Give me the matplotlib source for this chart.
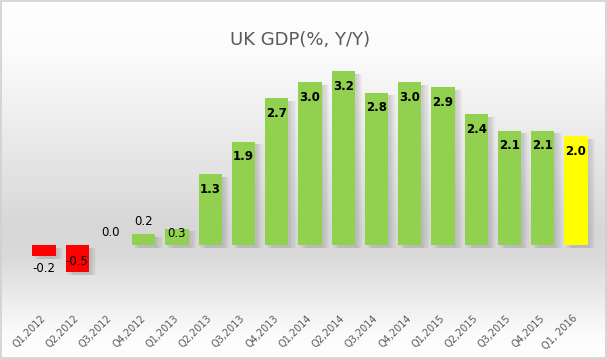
import numpy as np
import matplotlib.pyplot as plt
from matplotlib.colors import LinearSegmentedColormap

# dados
trimestres = ['Q1,2012', 'Q2,2012', 'Q3,2012', 'Q4,2012', 'Q1,2013', 'Q2,2013',
              'Q3,2013', 'Q4,2013', 'Q1,2014', 'Q2,2014', 'Q3,2014', 'Q4,2014',
              'Q1,2015', 'Q2,2015', 'Q3,2015', 'Q4,2015', 'Q1, 2016']
pib = [-0.2, -0.5, 0.0, 0.2, 0.3, 1.3, 1.9, 2.7, 3.0, 3.2, 2.8, 3.0,
       2.9, 2.4, 2.1, 2.1, 2.0]

n = len(pib)

fig = plt.figure(figsize=(6.07, 3.59), dpi=100)

# fundo com gradiente (branco -> cinza perto do zero -> branco)
bg = fig.add_axes([0, 0, 1, 1], zorder=0)
cmap = LinearSegmentedColormap.from_list(
    'fundo', [(0.0, '#ffffff'), (0.15, '#fbfbfb'), (0.64, '#d7d7d7'),
              (0.72, '#dadada'), (0.93, '#fbfbfb'), (1.0, '#ffffff')])
grad = np.linspace(0, 1, 256).reshape(-1, 1)
bg.imshow(grad, aspect='auto', cmap=cmap, extent=[0, 1, 0, 1], origin='upper')
bg.set_xlim(0, 1)
bg.set_ylim(0, 1)
bg.axis('off')
# borda
bg.add_patch(plt.Rectangle((0.001, 0.002), 0.997, 0.995, fill=False,
                           edgecolor='#d0d0d0', lw=1.2))

# posicao do grafico em pixels
W, H = 607, 359
passo = (576 - 44) / (n - 1)
esq = 44 - 0.6 * passo
dir_ = 576 + 0.6 * passo
escala = 54.4
zero = 245
ymin, ymax = -0.6, 3.5
baixo = zero - ymin * escala
topo = zero - ymax * escala
ax = fig.add_axes([esq / W, (H - baixo) / H, (dir_ - esq) / W, (baixo - topo) / H], zorder=1)
ax.patch.set_alpha(0)

x = np.arange(n)
cores = ['#ff0000' if v < 0 else '#92d050' for v in pib]
cores[-1] = '#ffff00'

# sombra difusa
for k in range(6):
    dx = 0.05 + 0.035 * k
    ax.bar(x + dx, pib, width=0.7, bottom=-0.05, color='#707070',
           alpha=0.05, zorder=1)

ax.bar(x, pib, width=0.7, color=cores, zorder=2)

# rotulos dos valores
for xi, v in zip(x, pib):
    if v < 0:
        yl = v - 0.24 if v > -0.3 else v + 0.2
        peso = 'normal'
    elif v < 0.25:
        yl = v + 0.23
        peso = 'normal'
    else:
        yl = max(v - 0.28, 0.22)
        peso = 'bold' if v >= 1 else 'normal'
    ax.text(xi, yl, f'{v:.1f}', ha='center', va='center', fontsize=8.5,
            fontweight=peso, color='black', zorder=3)

ax.set_xlim(-0.6, n - 1 + 0.6)
ax.set_ylim(ymin, ymax)
ax.set_xticks(x)
ax.set_xticklabels(trimestres, rotation=45, ha='right', va='center',
                   rotation_mode='anchor', fontsize=7, color='#595959')
ax.tick_params(axis='x', length=0, pad=28)
ax.set_yticks([])
for s in ax.spines.values():
    s.set_visible(False)

fig.text(0.495, 0.888, 'UK GDP(%, Y/Y)', ha='center', va='center', fontsize=13,
         color='#595959')

fig.savefig('out.png', dpi=100)
